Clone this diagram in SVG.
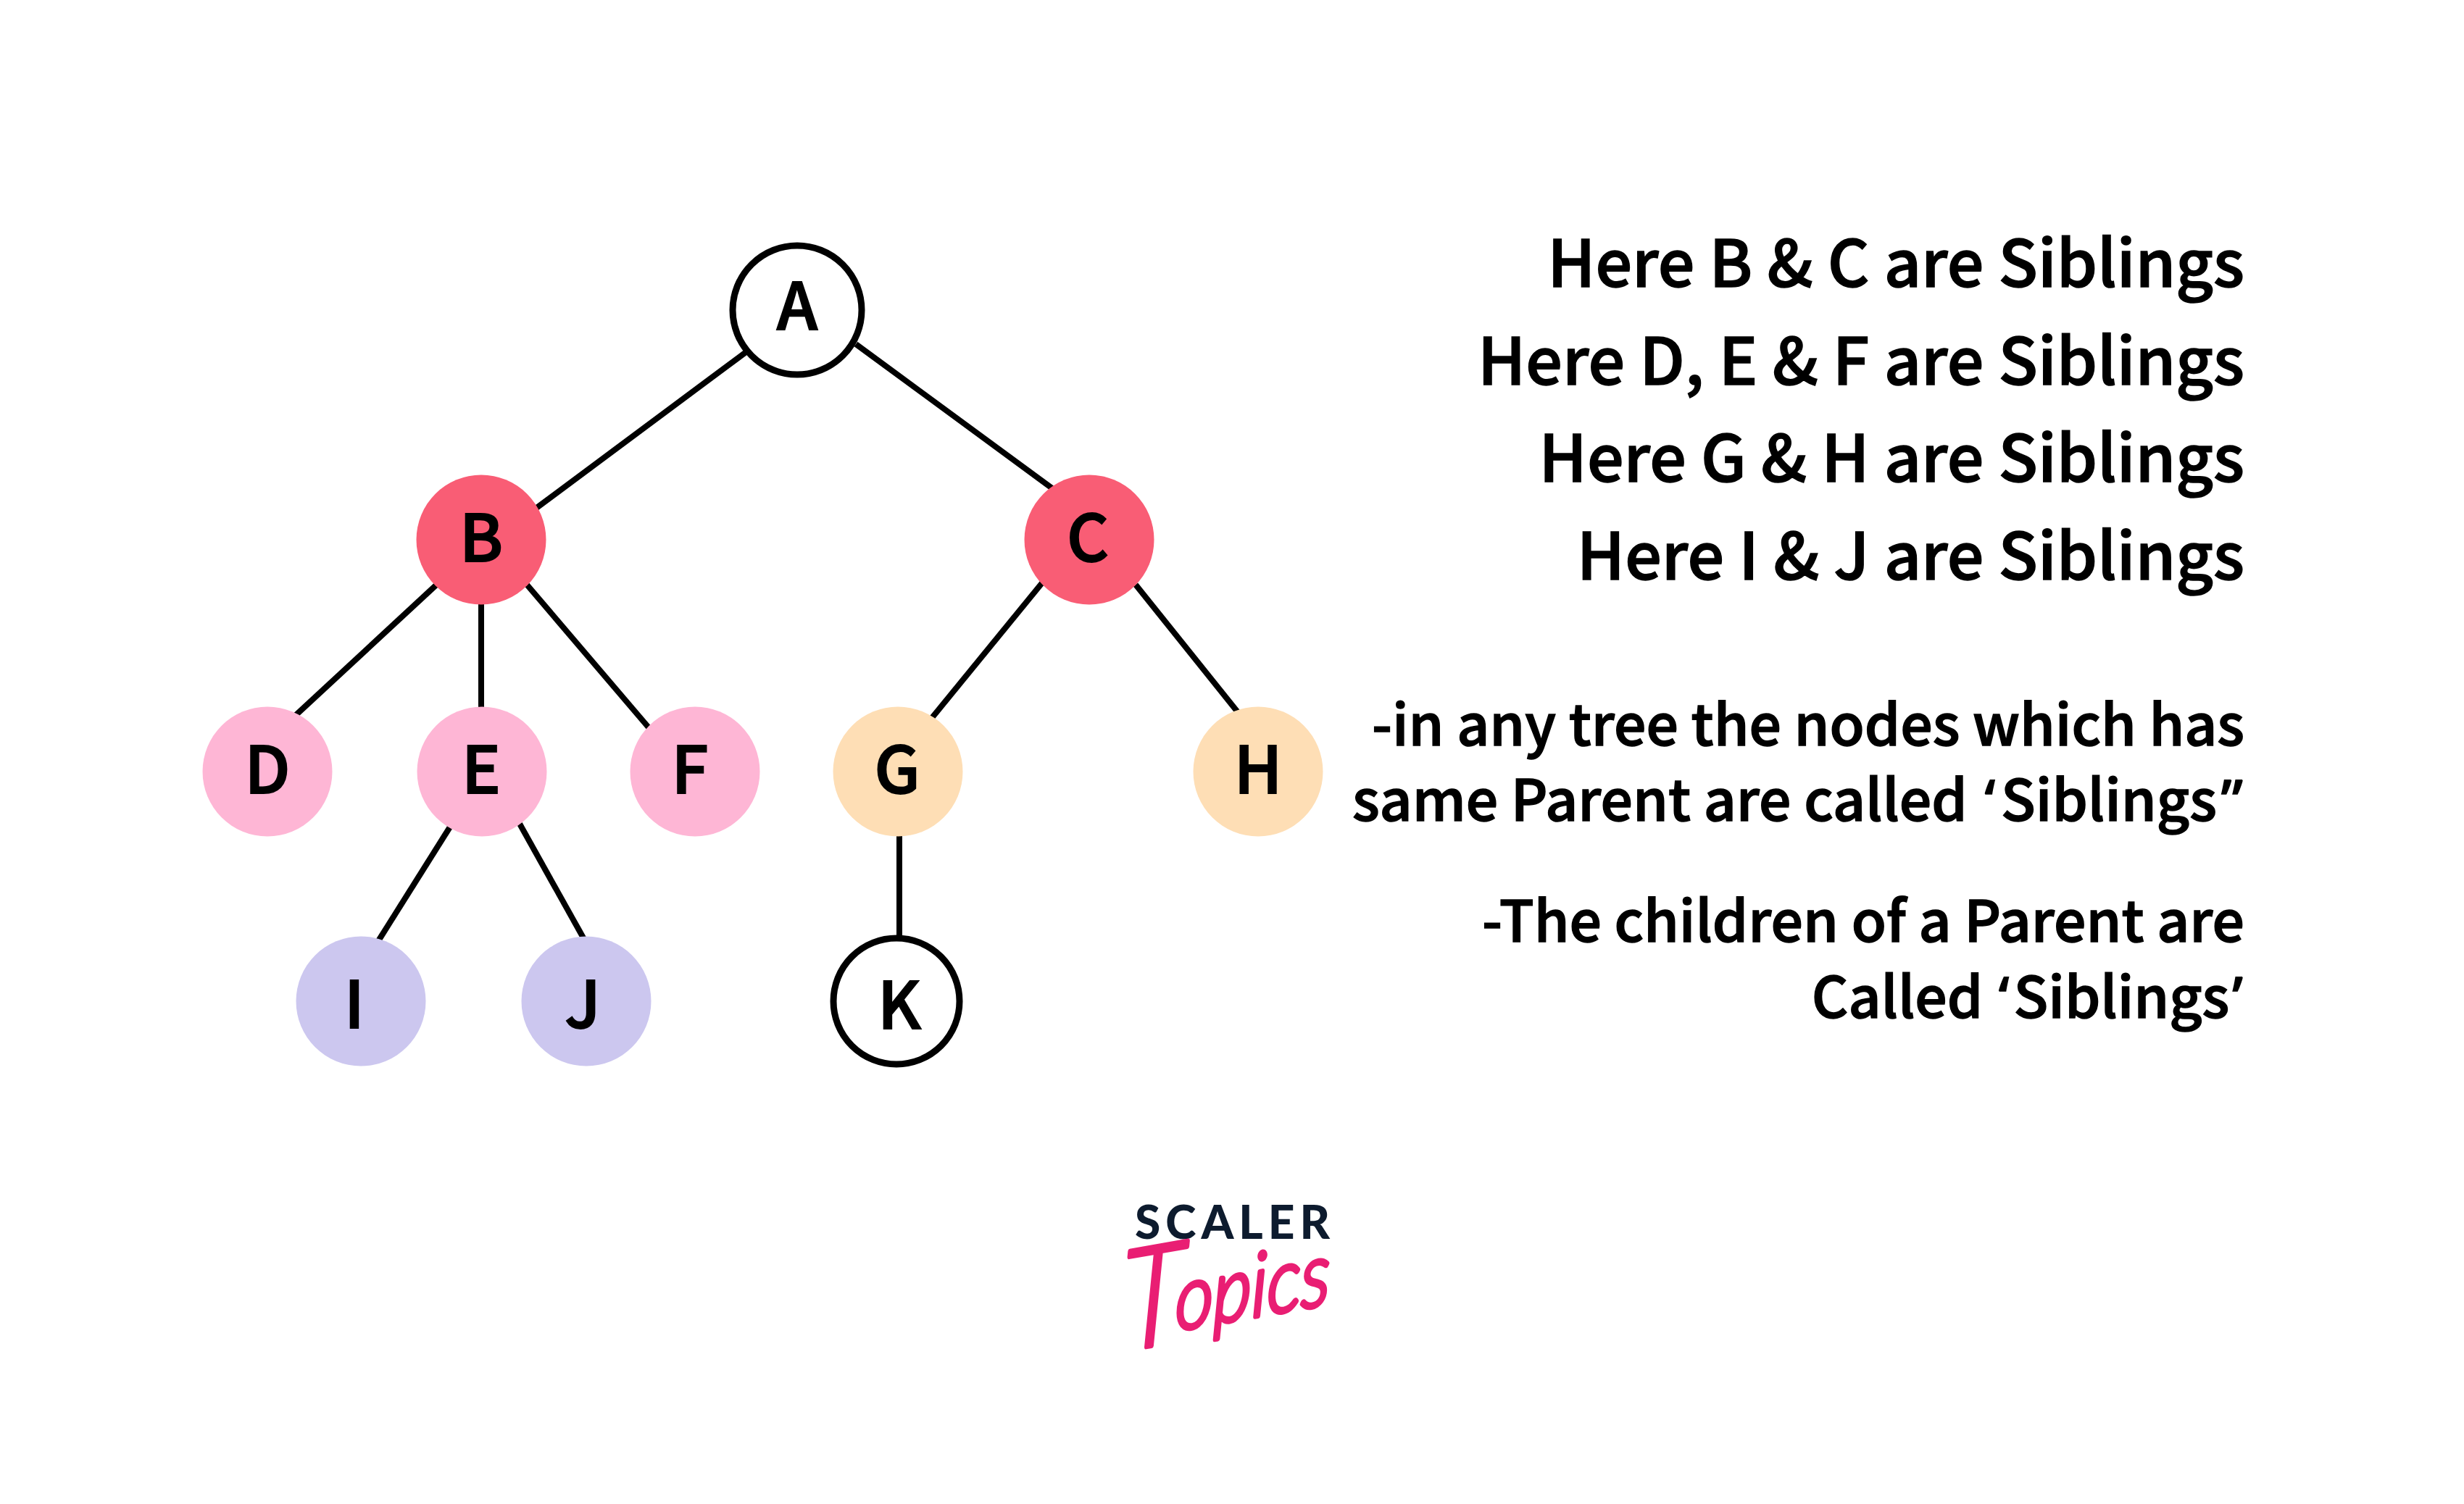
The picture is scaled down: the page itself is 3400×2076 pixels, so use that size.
<svg xmlns="http://www.w3.org/2000/svg" width="3400" height="2076" viewBox="0 0 3400 2076">
<style>
.n{stroke:none}
.o{fill:#fff;stroke:#000;stroke-width:9}
.l{font-family:"Noto Sans CJK SC","Noto Sans",sans-serif;font-weight:500;font-size:90px;fill:#000;stroke:#000;stroke-width:2;text-anchor:middle}
.t{font-family:"Noto Sans CJK SC","Noto Sans",sans-serif;font-weight:500;fill:#000;stroke:#000;stroke-width:1.5;text-anchor:end}
.a{font-size:89.5px}
.b{font-size:78.5px}
.q{font-family:"Noto Sans",sans-serif}
#connectors line{stroke:#000;stroke-width:8}
</style>
<rect width="3400" height="2076" fill="#fff"/>
<g id="connectors">
<line x1="1032" y1="484" x2="735" y2="705"/>
<line x1="1181" y1="475" x2="1460" y2="680"/>
<line x1="610" y1="800" x2="405" y2="990"/>
<line x1="664" y1="800" x2="664" y2="990"/>
<line x1="727" y1="807" x2="900" y2="1010"/>
<line x1="1445" y1="796" x2="1285" y2="992"/>
<line x1="1567" y1="807" x2="1712" y2="988"/>
<line x1="625" y1="1135" x2="520" y2="1302"/>
<line x1="717" y1="1137" x2="808" y2="1300"/>
<line x1="1241" y1="1130" x2="1241" y2="1300"/>
</g>
<g id="node-A"><circle class="o" cx="1100" cy="428" r="89"/><text class="l" x="1100" y="455">A</text></g>
<g id="node-B"><circle class="n" cx="664" cy="745" r="89.5" fill="#f95d75"/><text class="l" x="664" y="775">B</text></g>
<g id="node-C"><circle class="n" cx="1503" cy="745" r="89.5" fill="#f95d75"/><text class="l" x="1501" y="775">C</text></g>
<g id="node-D"><circle class="n" cx="369" cy="1065" r="89.5" fill="#feb6d5"/><text class="l" x="369" y="1095">D</text></g>
<g id="node-E"><circle class="n" cx="665" cy="1065" r="89.5" fill="#feb6d5"/><text class="l" x="664" y="1095">E</text></g>
<g id="node-F"><circle class="n" cx="959" cy="1065" r="89.5" fill="#feb6d5"/><text class="l" x="952" y="1095">F</text></g>
<g id="node-G"><circle class="n" cx="1239" cy="1065" r="89.5" fill="#fedeb5"/><text class="l" x="1238" y="1095">G</text></g>
<g id="node-H"><circle class="n" cx="1736" cy="1065" r="89.5" fill="#fedeb5"/><text class="l" x="1736" y="1095">H</text></g>
<g id="node-I"><circle class="n" cx="498" cy="1382" r="89.5" fill="#ccc7ef"/><text class="l" x="489" y="1419">I</text></g>
<g id="node-J"><circle class="n" cx="809" cy="1382" r="89.5" fill="#ccc7ef"/><text class="l" x="804" y="1419">J</text></g>
<g id="node-K"><circle class="o" cx="1237" cy="1382" r="87"/><text class="l" x="1241" y="1420">K</text></g>
<g id="notes">
<text class="t a" x="3097" y="396">Here B &amp; C are Siblings</text>
<text class="t a" x="3097" y="531">Here D, E &amp; F are Siblings</text>
<text class="t a" x="3097" y="665">Here G &amp; H are Siblings</text>
<text class="t a" x="3097" y="800">Here I &amp; J are Siblings</text>
<text class="t b" x="3097" y="1029">-in any tree the nodes which has</text>
<text class="t b" x="3095" y="1133">same Parent are called <tspan class="q" dx="6">‘</tspan><tspan dx="8">Siblings</tspan><tspan class="q" dx="6">”</tspan></text>
<text class="t b" x="3097" y="1300">-The children of a Parent are</text>
<text class="t b" x="3095" y="1405">Called <tspan class="q" dx="4">‘</tspan><tspan dx="6">Siblings</tspan><tspan class="q" dx="4">’</tspan></text>
</g>
<g id="logo">
<text x="1704" y="1710" font-family="Lato,'Noto Sans',sans-serif" font-weight="900" font-size="64" letter-spacing="7" fill="#0d1b2e" text-anchor="middle">SCALER</text>
<text font-family="Lato,sans-serif" font-style="italic" font-weight="300" font-size="190" fill="#e91e73" stroke="#e91e73" stroke-width="6" stroke-linejoin="round" transform="translate(1549 1865) rotate(-10) skewX(-10) scale(.85 1)">T<tspan font-size="122" dx="-14" dy="-15">opics</tspan></text>
</g>
</svg>
